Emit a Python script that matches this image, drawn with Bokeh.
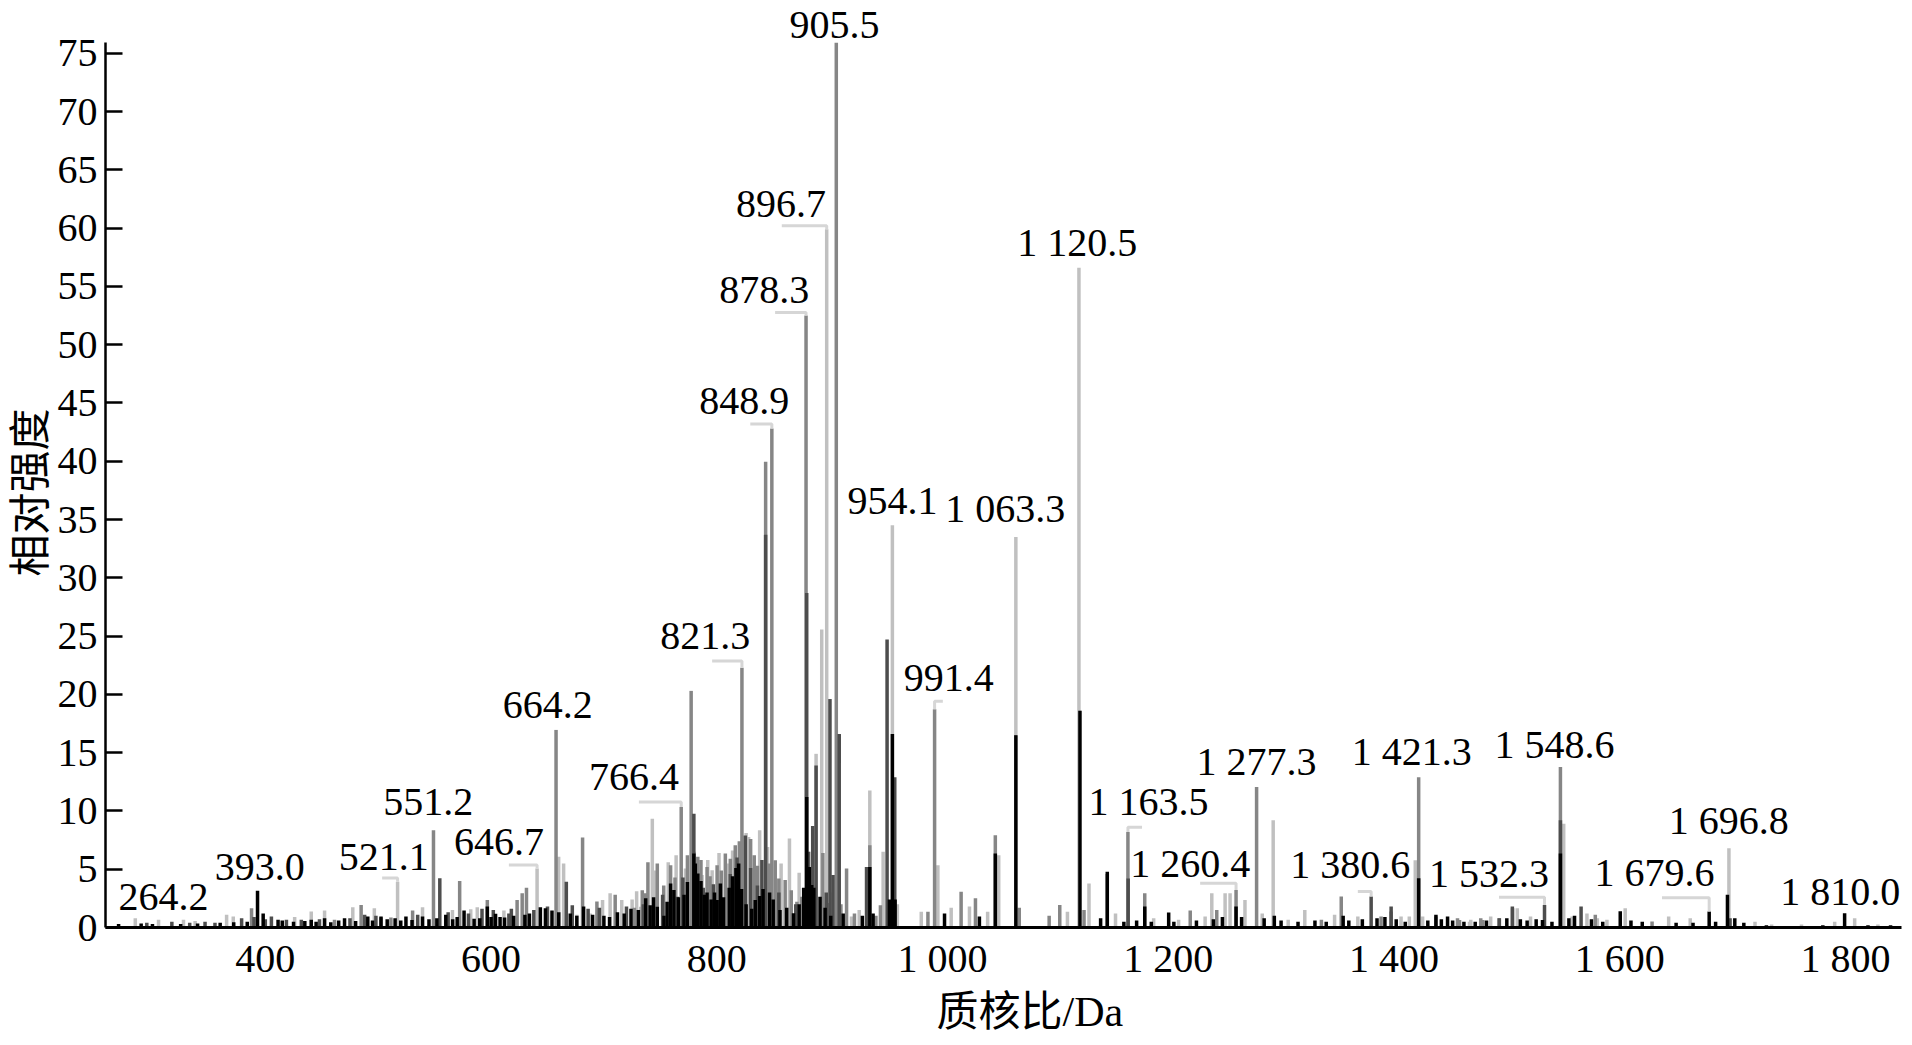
from bokeh.plotting import figure
from bokeh.models import ColumnDataSource, Range1d, FixedTicker, LabelSet, Title
from bokeh.core.properties import value
from bokeh.embed import file_html
from bokeh.resources import INLINE

# ---------------- data ----------------
# four overlaid spectra drawn in different shades
light_mz = [284.8, 305.4, 327.5, 337.8, 365.7, 371.6, 426.0, 440.7, 452.5, 477.5, 496.6, 517.2,
            539.3, 565.8, 582.0, 587.8, 611.4, 640.8, 659.9, 664.3, 676.1, 687.9, 698.8, 705.5,
            715.8, 725.0, 729.0, 732.6, 742.9, 745.0, 757.0, 764.0, 772.3, 780.0, 787.0, 792.0,
            795.9, 802.0, 810.6, 814.0, 826.0, 828.2, 838.0, 845.0, 857.0, 864.4, 873.0, 883.0,
            888.0, 893.0, 897.4, 902.0, 919.4, 926.2, 935.6, 947.4, 955.6, 960.0, 981.2, 995.9,
            1007.7, 1023.9, 1040.0, 1049.8, 1065.0, 1110.7, 1120.9, 1129.8, 1153.3, 1187.1,
            1209.2, 1232.7, 1238.6, 1250.4, 1254.8, 1268.0, 1283.3, 1293.0, 1306.3, 1321.0,
            1347.4, 1368.0, 1406.3, 1413.6, 1418.9, 1425.4, 1466.9, 1468.1, 1485.7, 1509.3,
            1521.0, 1550.4, 1557.8, 1571.0, 1580.2, 1588.7, 1604.9, 1643.4, 1662.5, 1696.8,
            1719.9, 1734.6, 1761.1, 1790.5, 1808.2, 1828.8]
light_int = [0.8, 0.66, 0.66, 0.55, 1.1, 0.95, 0.9, 1.37, 1.45, 1.74, 1.66, 3.93,
             1.74, 1.5, 1.57, 1.74, 1.45, 5.07, 6.07, 5.5, 1.1, 1.2, 2.37, 2.94,
             2.37, 2.4, 3.1, 1.79, 9.34, 4.9, 5.6, 6.2, 5.06, 6.5, 4.5, 5.8,
             4.92, 6.4, 5.5, 6.6, 8.1, 7.77, 8.34, 6.9, 5.5, 7.63, 4.7, 6.5,
             14.9, 25.56, 59.9, 3.0, 0.94, 1.5, 11.76, 6.49, 34.5, 2.0, 1.36, 5.35,
             1.7, 1.8, 1.36, 6.2, 33.5, 1.36, 56.6, 3.78, 1.2, 0.8,
             0.66, 0.95, 2.94, 2.94, 2.94, 2.37, 1.2, 9.2, 0.66, 1.51,
             1.09, 0.95, 0.95, 0.95, 5.78, 0.95, 0.5, 0.66, 0.95, 1.66,
             0.95, 8.9, 0.95, 1.2, 0.8, 0.66, 1.66, 0.94, 0.8, 6.8,
             0.5, 0.25, 0.25, 0.5, 0.8, 0.25]

mid_mz = [387.8, 461.3, 484.9, 502.5, 511.3, 530.5, 549.0, 572.2, 596.7, 623.1, 627.6, 631.4,
          657.6, 681.1, 693.8, 710.0, 727.0, 734.0, 737.0, 739.0, 747.3, 753.0, 759.1, 763.0,
          768.5, 774.0, 777.3, 783.2, 786.0, 791.4, 794.0, 800.3, 804.0, 807.6, 812.0, 816.4,
          820.0, 822.3, 830.0, 833.2, 836.0, 843.3, 846.8, 848.8, 851.8, 855.0, 860.6, 866.0,
          871.0, 875.3, 879.1, 884.0, 894.0, 898.0, 905.9, 910.0, 915.0, 922.0, 935.6, 941.0,
          945.0, 987.1, 993.0, 1016.5, 1029.2, 1046.8, 1068.0, 1094.5, 1103.9, 1125.4,
          1146.0, 1164.3, 1179.2, 1219.5, 1243.0, 1260.1, 1278.3, 1335.7, 1353.3, 1388.6,
          1397.5, 1421.9, 1437.2, 1456.3, 1458.1, 1476.9, 1478.7, 1493.1, 1505.1, 1547.5,
          1578.4, 1628.7]
mid_int = [1.66, 0.66, 1.94, 0.85, 0.85, 1.45, 8.35, 3.99, 2.37, 2.37, 2.94, 3.42,
           16.95, 7.72, 2.22, 2.8, 1.7, 3.2, 2.93, 5.6, 5.49, 3.6, 5.35, 4.3,
           10.33, 6.2, 20.3, 6.06, 5.8, 5.2, 4.4, 5.35, 4.9, 6.35, 5.9, 7.06,
           7.4, 22.29, 7.6, 6.2, 5.3, 39.95, 5.49, 42.8, 5.78, 4.2, 4.07, 3.2,
           2.2, 2.64, 52.5, 3.6, 6.4, 2.1, 75.9, 2.0, 5.06, 1.2, 7.06, 1.0,
           1.9, 1.36, 18.73, 3.07, 2.5, 7.91, 1.7, 1.0, 1.93, 1.5,
           4.6, 8.2, 2.94, 1.45, 1.51, 3.22, 12.05, 0.66, 2.65, 0.95,
           1.37, 12.9, 0.95, 0.8, 0.65, 0.8, 0.65, 0.8, 1.65, 13.76,
           1.09, 0.51]

dark_mz = [295.0, 317.2, 333.0, 346.6, 355.4, 379.0, 390.0, 400.0, 405.4, 418.7, 431.9, 448.0,
           475.0, 488.0, 498.0, 535.0, 554.6, 562.0, 580.0, 592.0, 602.0, 615.8, 618.0, 637.9,
           650.0, 666.7, 672.0, 686.0, 696.0, 720.0, 735.0, 752.0, 765.0, 770.0, 779.7, 788.0,
           797.0, 812.0, 818.0, 825.3, 830.0, 836.0, 840.0, 843.3, 855.0, 870.0, 879.7, 881.0,
           885.0, 888.0, 897.0, 900.3, 903.0, 908.5, 932.7, 950.9, 957.7, 1164.5, 1379.8,
           1397.5, 1493.4, 1504.9, 1533.4, 1547.5, 1565.8, 1697.8]
dark_int = [0.4, 0.5, 0.4, 0.5, 0.4, 0.8, 0.9, 0.7, 0.94, 0.66, 0.66, 0.7,
            0.8, 1.1, 1.0, 1.1, 4.22, 1.3, 1.2, 1.6, 1.5, 1.2, 1.6, 1.5,
            1.8, 3.93, 1.9, 1.6, 1.7, 1.8, 2.0, 2.8, 2.64, 4.3, 9.76, 3.4,
            3.7, 4.6, 6.0, 7.9, 5.1, 3.6, 5.8, 33.7, 3.0, 2.0, 28.7, 6.5,
            8.7, 13.9, 3.0, 19.6, 4.5, 16.6, 5.2, 24.71, 12.9, 4.21, 2.65,
            1.8, 0.8, 1.8, 1.94, 9.2, 1.8, 0.8]

black_mz = [270.0, 290.0, 300.0, 325.0, 340.0, 360.0, 372.0, 384.0, 393.1, 398.1, 411.3, 415.0,
            425.0, 435.0, 440.7, 445.0, 452.5, 458.0, 465.0, 470.2, 480.0, 490.8, 495.0, 502.5,
            508.0, 515.0, 520.0, 524.6, 530.0, 539.3, 545.0, 552.0, 559.9, 566.0, 570.0, 576.1,
            585.0, 590.0, 596.7, 600.0, 604.0, 608.0, 612.0, 620.0, 630.0, 634.0, 643.7, 648.2,
            654.0, 660.0, 670.2, 676.0, 682.0, 690.0, 700.0, 705.0, 712.0, 718.0, 724.0, 730.5,
            737.0, 741.0, 744.0, 747.3, 753.2, 756.0, 759.1, 762.0, 766.0, 771.0, 774.0, 779.7,
            781.0, 783.2, 786.0, 789.0, 791.4, 795.0, 798.0, 800.3, 803.2, 806.0, 811.0, 814.0,
            817.0, 819.4, 822.0, 826.0, 831.0, 834.1, 838.0, 841.0, 846.8, 850.0, 856.0, 862.0,
            868.0, 873.0, 877.0, 879.7, 882.0, 884.1, 886.0, 891.5, 896.0, 901.0, 912.0, 929.0,
            935.6, 938.5, 953.0, 955.6, 958.0, 1001.8, 1032.7, 1046.8, 1065.0, 1121.8, 1140.1,
            1146.0, 1160.7, 1172.0, 1179.2, 1185.0, 1200.4, 1205.0, 1225.0, 1240.0, 1248.0,
            1260.1, 1265.0, 1285.0, 1294.0, 1300.0, 1315.0, 1330.0, 1340.0, 1355.0, 1360.0,
            1372.0, 1385.0, 1392.0, 1402.0, 1410.0, 1421.9, 1430.0, 1437.2, 1442.0, 1447.5,
            1452.0, 1462.0, 1472.0, 1482.0, 1500.0, 1512.0, 1518.0, 1526.0, 1531.6, 1540.0,
            1547.5, 1555.0, 1560.0, 1575.0, 1585.0, 1600.5, 1610.0, 1620.0, 1650.0, 1665.0,
            1679.3, 1685.0, 1695.5, 1702.0, 1710.0, 1730.0, 1780.0, 1799.3, 1820.0, 1840.0]
black_int = [0.3, 0.35, 0.3, 0.3, 0.35, 0.4, 0.45, 0.5, 3.16, 1.2, 0.66, 0.6,
             0.5, 0.55, 0.66, 0.5, 0.8, 0.45, 0.6, 0.8, 0.55, 0.94, 0.6, 0.94,
             0.7, 0.8, 0.6, 0.94, 0.65, 0.94, 0.7, 0.8, 1.1, 0.7, 0.9, 1.45,
             0.75, 0.8, 1.8, 0.9, 1.17, 0.9, 0.85, 1.0, 1.1, 1.2, 1.74, 1.66,
             1.45, 1.3, 1.2, 1.0, 1.8, 1.1, 1.0, 0.9, 1.3, 1.2, 1.6, 1.5,
             2.5, 1.9, 2.6, 1.79, 1.0, 2.2, 3.78, 3.21, 2.6, 2.8, 3.9, 6.35,
             5.5, 4.64, 4.0, 2.8, 3.0, 2.4, 3.0, 2.36, 3.78, 2.6, 3.4, 4.4,
             5.1, 5.49, 3.3, 2.0, 1.6, 2.36, 2.7, 3.3, 3.0, 2.4, 1.5, 1.7,
             1.22, 2.0, 3.4, 11.19, 5.2, 3.64, 3.4, 2.64, 1.7, 1.0, 1.2, 1.0,
             5.2, 1.2, 2.4, 16.6, 2.4, 1.2, 0.94, 6.35, 16.5, 18.6, 0.8,
             4.78, 0.5, 0.6, 1.8, 0.5, 1.28, 0.5, 0.6, 0.7, 0.9,
             1.8, 0.9, 0.8, 1.0, 0.6, 0.5, 0.6, 0.5, 1.0, 0.6,
             0.7, 0.8, 0.9, 0.7, 0.5, 4.22, 0.6, 1.09, 0.7, 0.95,
             0.6, 0.5, 0.5, 0.6, 0.8, 0.7, 0.6, 0.7, 0.65, 0.5,
             6.35, 0.8, 1.0, 0.7, 0.5, 1.4, 0.6, 0.5, 0.4, 0.4,
             1.37, 0.5, 2.8, 0.8, 0.4, 0.2, 0.2, 1.22, 0.2, 0.2]

# peak annotations
label_text = ["264.2", "393.0", "521.1", "551.2", "646.7", "664.2", "766.4", "821.3", "848.9",
              "878.3", "896.7", "905.5", "954.1", "991.4", "1 063.3", "1 120.5", "1 163.5",
              "1 260.4", "1 277.3", "1 380.6", "1 421.3", "1 532.3", "1 548.6", "1 679.6",
              "1 696.8", "1 810.0"]
label_mz = [309.8, 395.1, 504.9, 544.3, 607.0, 650.2, 726.7, 789.9, 824.4,
            842.0, 856.8, 904.4, 955.6, 1005.6, 1055.6, 1119.5, 1182.5,
            1219.5, 1278.3, 1361.3, 1415.7, 1484.3, 1542.3, 1630.8,
            1696.6, 1795.5]
label_int = [1.51, 4.07, 4.93, 9.62, 6.2, 18.0, 11.76, 23.86, 44.08,
             53.6, 60.96, 76.3, 35.5, 20.3, 34.8, 57.6, 9.62,
             4.36, 13.1, 4.21, 13.98, 3.5, 14.55, 3.55,
             8.03, 1.89]

# leader lines from a label to its peak
leader_start = [503.5, 615.8, 731.0, 795.9, 829.7, 851.7, 857.6, 1000.3, 1176.8, 1228.3, 1368.0, 1493.1, 1637.5]
leader_level = [4.25, 5.36, 10.76, 22.86, 43.2, 52.76, 60.2, 19.4, 8.6, 3.79, 3.08, 2.6, 2.56]
leader_peak_mz = [517.2, 640.8, 768.5, 822.3, 848.8, 879.1, 897.4, 993.0, 1164.3, 1260.1, 1379.8, 1533.4, 1679.3]
leader_peak_int = [3.93, 5.07, 10.33, 22.29, 42.8, 52.5, 59.9, 18.73, 8.2, 3.22, 2.65, 1.94, 1.37]

x_ticks = [400, 600, 800, 1000, 1200, 1400, 1600, 1800]
x_tick_labels = ["400", "600", "800", "1 000", "1 200", "1 400", "1 600", "1 800"]
y_ticks = list(range(0, 80, 5))
y_axis_max = 75.94

x_title = "质核比/Da"
y_title = "相对强度"

# ---------------- figure ----------------
SERIF = "Liberation Serif"
MIXED = "Liberation Serif, Noto Sans CJK SC"

p = figure(width=1904, height=1037, output_backend="svg", toolbar_location=None,
           x_range=Range1d(258.4, 1849.7), y_range=Range1d(0, 79.53),
           min_border_left=105, min_border_right=3, min_border_top=0, min_border_bottom=110)
p.outline_line_color = None
p.xgrid.visible = False
p.ygrid.visible = False

shades = [(light_mz, light_int, "#c0c0c0"),
          (mid_mz, mid_int, "#868686"),
          (dark_mz, dark_int, "#4d4d4d"),
          (black_mz, black_int, "#000000")]
for mzs, ints, col in shades:
    src = ColumnDataSource(dict(x=mzs, y0=[0] * len(mzs), y1=ints))
    p.segment(x0="x", y0="y0", x1="x", y1="y1", source=src, line_color=col, line_width=3.5)

lx, ly = [], []
for s, lvl, pm, pi in zip(leader_start, leader_level, leader_peak_mz, leader_peak_int):
    lx.append([s, pm, pm])
    ly.append([lvl, lvl, pi])
p.multi_line(xs=lx, ys=ly, line_color="#d6d6d6", line_width=3)

lab_src = ColumnDataSource(dict(x=label_mz, y=label_int, t=label_text))
p.add_layout(LabelSet(x="x", y="y", text="t", source=lab_src, text_align="center",
                      text_baseline="alphabetic", text_font=value(SERIF),
                      text_font_size="40px", text_color="black"))

# axes
p.xaxis.ticker = FixedTicker(ticks=x_ticks)
p.xaxis.major_label_overrides = {t: s for t, s in zip(x_ticks, x_tick_labels)}
p.yaxis.ticker = FixedTicker(ticks=y_ticks)
p.yaxis.bounds = (0, y_axis_max)
for ax in (p.xaxis[0], p.yaxis[0]):
    ax.major_label_text_font = SERIF
    ax.major_label_text_font_size = "40px"
    ax.major_label_text_color = "black"
    ax.axis_line_color = "black"
    ax.minor_tick_line_color = None
p.xaxis.axis_line_width = 3
p.yaxis.axis_line_width = 2.5
p.xaxis.major_tick_in = 0
p.xaxis.major_tick_out = 0
p.xaxis.major_label_standoff = 8
p.yaxis.major_tick_in = 17
p.yaxis.major_tick_out = 0
p.yaxis.major_tick_line_width = 2.5
p.yaxis.major_tick_line_color = "black"
p.yaxis.major_label_standoff = 8

# axis titles (placed as titles so they can sit where the reference has them)
p.add_layout(Title(text=y_title, align="left", offset=351, standoff=0, vertical_align="middle",
                   text_font=MIXED, text_font_size="42px", text_font_style="normal",
                   text_color="black"), "left")
p.add_layout(Title(text=x_title, align="left", offset=831, standoff=6,
                   text_font=MIXED, text_font_size="42px", text_font_style="normal",
                   text_color="black"), "below")

open("out.html", "w").write(file_html(p, INLINE))
